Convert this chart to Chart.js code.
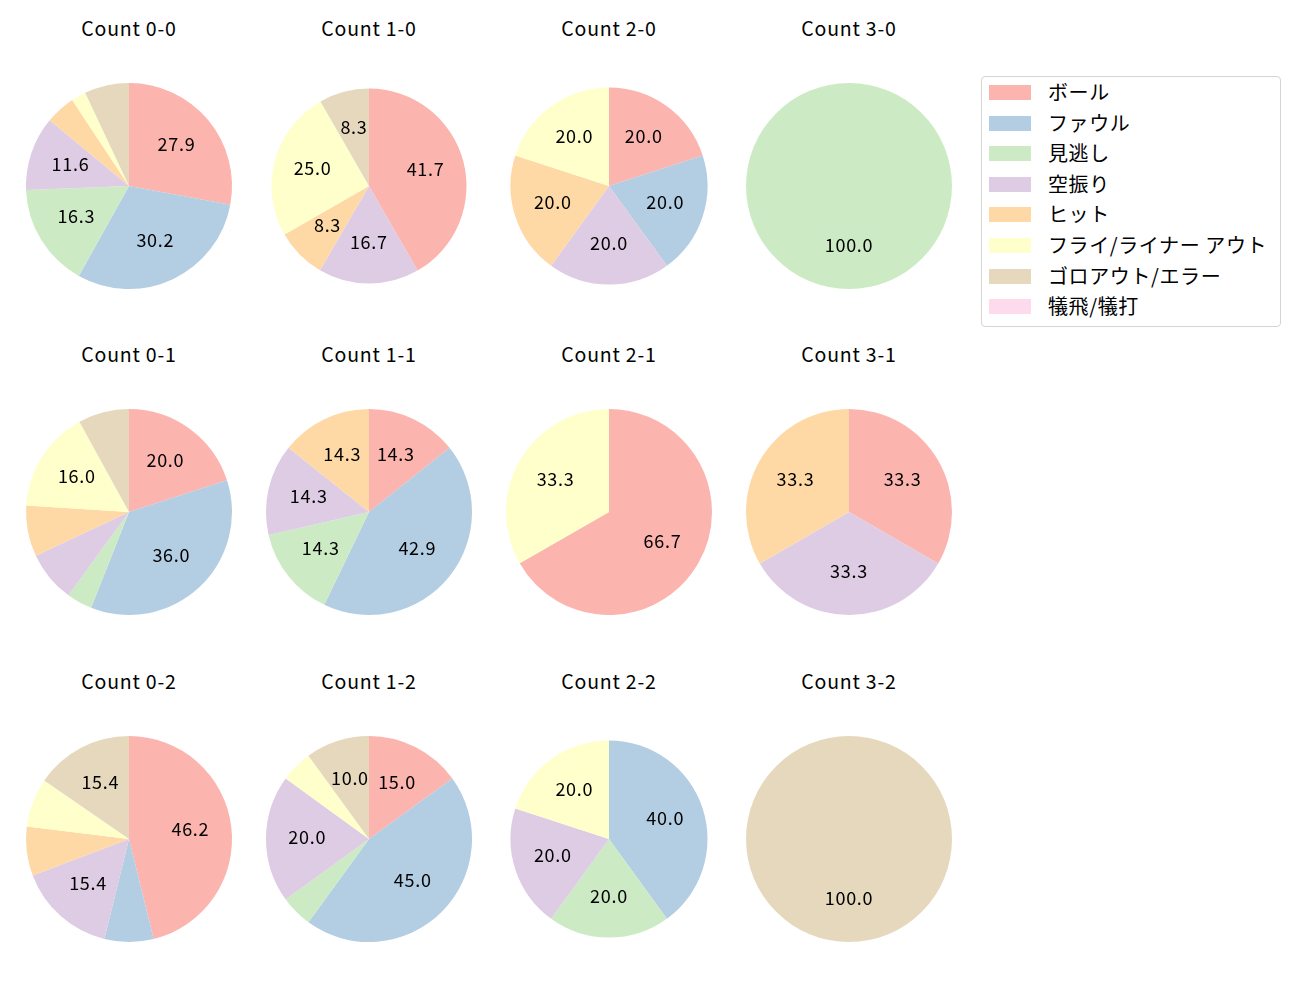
<!DOCTYPE html>
<html>
<head>
<meta charset="utf-8">
<script src="https://cdn.jsdelivr.net/npm/chart.js@4"></script>
<style>
  body { margin: 0; background: #fff; font-family: 'Noto Sans CJK JP', sans-serif; }
  #wrap { position: relative; width: 1300px; height: 1000px; }
  .title { position: absolute; width: 200px; text-align: center; font-size: 19.5px; letter-spacing: 0.8px; color: #000; line-height: 20px; }
  canvas { position: absolute; }
  #legend { position: absolute; left: 981px; top: 76px; width: 298px; height: 249px;
            border: 1px solid #d4d4d4; border-radius: 4px; background: #fff; }
  .item { position: absolute; left: 7px; height: 24px; font-size: 20px; letter-spacing: 0.6px; line-height: 24px; color: #000; white-space: nowrap; }
  .sw { position: absolute; left: 0; top: 5px; width: 42px; height: 15px; }
  .lbl { position: absolute; left: 59px; top: 0; }
</style>
</head>
<body>
<div id="wrap">
  <div id="legend"></div>
</div>
<script>
// pitch result categories and Pastel1 colours
const categories = ['ボール', 'ファウル', '見逃し', '空振り', 'ヒット', 'フライ/ライナー アウト', 'ゴロアウト/エラー', '犠飛/犠打'];
const colors = ['#fbb4ae', '#b3cde3', '#ccebc5', '#decbe4', '#fed9a6', '#ffffcc', '#e5d8bd', '#fddaec'];

// percentages per ball-strike count
const count00 = [27.9, 30.2, 16.3, 11.6, 4.7, 2.3, 7.0, 0];
const count10 = [41.7, 0, 0, 16.7, 8.3, 25.0, 8.3, 0];
const count20 = [20.0, 20.0, 0, 20.0, 20.0, 20.0, 0, 0];
const count30 = [0, 0, 100.0, 0, 0, 0, 0, 0];
const count01 = [20.0, 36.0, 4.0, 8.0, 8.0, 16.0, 8.0, 0];
const count11 = [14.3, 42.9, 14.3, 14.3, 14.3, 0, 0, 0];
const count21 = [66.7, 0, 0, 0, 0, 33.3, 0, 0];
const count31 = [33.3, 0, 0, 33.3, 33.3, 0, 0, 0];
const count02 = [46.2, 7.7, 0, 15.4, 7.7, 7.7, 15.4, 0];
const count12 = [15.0, 45.0, 5.0, 20.0, 0, 5.0, 10.0, 0];
const count22 = [0, 40.0, 20.0, 20.0, 0, 20.0, 0, 0];
const count32 = [0, 0, 0, 0, 0, 0, 100.0, 0];

const countLabels = [
    ['0-0', '1-0', '2-0', '3-0'],
    ['0-1', '1-1', '2-1', '3-1'],
    ['0-2', '1-2', '2-2', '3-2']
];
const countData = [
    [count00, count10, count20, count30],
    [count01, count11, count21, count31],
    [count02, count12, count22, count32]
];

// layout
const colX = [129, 369, 609, 849];
const rowY = [185.5, 512, 838.5];
const radii = [
    [103, 97.5, 98.5, 103],
    [103, 103, 103, 103],
    [103, 103, 98.5, 103]
];
const SIZE = 230;

// percentage labels inside slices (like autopct)
const pctLabels = {
    id: 'pctLabels',
    afterDatasetsDraw(chart) {
        const ctx = chart.ctx;
        const ds = chart.data.datasets[0];
        const meta = chart.getDatasetMeta(0);
        ctx.save();
        ctx.font = '18px "Noto Sans CJK JP", sans-serif';
        if ('letterSpacing' in ctx) ctx.letterSpacing = '0.7px';
        ctx.fillStyle = '#000';
        ctx.textAlign = 'center';
        ctx.textBaseline = 'alphabetic';
        meta.data.forEach((arc, i) => {
            const v = ds.data[i];
            if (v <= 8) return;
            const p = arc.getProps(['x', 'y', 'startAngle', 'endAngle', 'outerRadius'], true);
            const mid = (p.startAngle + p.endAngle) / 2;
            const r = p.outerRadius * 0.6;
            ctx.fillText(v.toFixed(1), p.x + Math.cos(mid) * r, p.y + Math.sin(mid) * r + 4.6);
        });
        ctx.restore();
    }
};

const wrap = document.getElementById('wrap');

countLabels.forEach((row, r) => {
    row.forEach((lab, c) => {
        const title = document.createElement('div');
        title.className = 'title';
        title.textContent = 'Count ' + lab;
        title.style.left = (colX[c] - 100) + 'px';
        title.style.top = (rowY[r] - 168) + 'px';
        wrap.appendChild(title);

        const canvas = document.createElement('canvas');
        canvas.width = SIZE;
        canvas.height = SIZE;
        canvas.style.left = (colX[c] - SIZE / 2) + 'px';
        canvas.style.top = (rowY[r] - SIZE / 2) + 'px';
        wrap.appendChild(canvas);

        new Chart(canvas.getContext('2d'), {
            type: 'pie',
            data: {
                labels: categories,
                datasets: [{
                    data: countData[r][c],
                    backgroundColor: colors,
                    borderWidth: 0
                }]
            },
            options: {
                responsive: false,
                animation: false,
                radius: radii[r][c],
                layout: { padding: 0 },
                plugins: {
                    legend: { display: false },
                    tooltip: { enabled: false }
                }
            },
            plugins: [pctLabels]
        });
    });
});

// legend
const legend = document.getElementById('legend');
categories.forEach((name, i) => {
    const item = document.createElement('div');
    item.className = 'item';
    item.style.top = (3 + i * 30.6) + 'px';
    item.innerHTML = '<span class="sw" style="background:' + colors[i] + '"></span><span class="lbl">' + name + '</span>';
    legend.appendChild(item);
});
</script>
</body>
</html>
